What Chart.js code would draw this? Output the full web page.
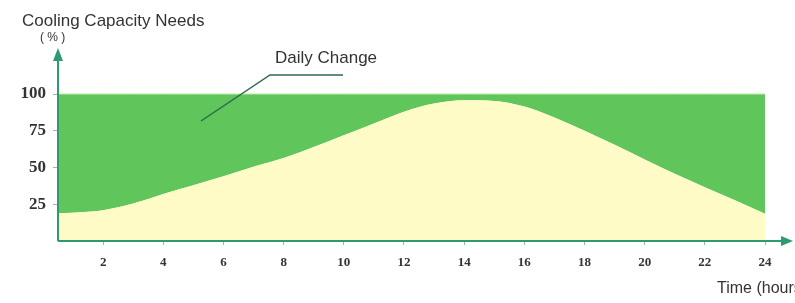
<!DOCTYPE html>
<html>
<head>
<meta charset="utf-8">
<script src="https://cdn.jsdelivr.net/npm/chart.js@4.4.0/dist/chart.umd.min.js"></script>
<style>
  html, body { margin: 0; padding: 0; background: #fff; }
  #wrap { width: 795px; height: 303px; position: relative; }
</style>
</head>
<body>
<div id="wrap"><canvas id="chart"></canvas></div>
<script>
// hours along the day and the cooling need (%)
var hours = [0.5, 1, 2, 3, 4, 5, 6, 7, 8, 9, 10, 11, 12, 13, 14, 15, 16, 17, 18, 19, 20, 21, 22, 23, 24];
var needs = [19, 19.3, 21, 25.5, 32, 38, 44, 50.5, 56.5, 64, 72, 80, 88, 93.5, 95.8, 95.3, 91.5, 84, 75, 65.5, 55.5, 45.8, 36.6, 27.8, 18.5];
var fullLoad = [100, 100, 100, 100, 100, 100, 100, 100, 100, 100, 100, 100, 100, 100, 100, 100, 100, 100, 100, 100, 100, 100, 100, 100, 100];
var xTicks = [2, 4, 6, 8, 10, 12, 14, 16, 18, 20, 22, 24];
var yTicks = [25, 50, 75, 100];

var teal = '#2f9a6e';

function pts(ys) {
    var out = [];
    for (var i = 0; i < hours.length; i++) out.push({x: hours[i], y: ys[i]});
    return out;
}

// axis lines with arrows, titles and the leader line
var decor = {
    id: 'decor',
    afterDraw: function(c) {
        var ctx = c.ctx, a = c.chartArea;
        ctx.save();
        ctx.strokeStyle = teal;
        ctx.lineWidth = 2;
        ctx.beginPath();
        ctx.moveTo(a.left, a.bottom);
        ctx.lineTo(a.left, a.top + 6);
        ctx.moveTo(a.left, a.bottom);
        ctx.lineTo(a.right - 6, a.bottom);
        ctx.stroke();

        ctx.fillStyle = teal;
        ctx.beginPath();
        ctx.moveTo(a.left, a.top - 4);
        ctx.lineTo(a.left - 5, a.top + 9);
        ctx.lineTo(a.left + 5, a.top + 9);
        ctx.closePath();
        ctx.fill();
        ctx.beginPath();
        ctx.moveTo(a.right + 3, a.bottom);
        ctx.lineTo(a.right - 9, a.bottom - 5);
        ctx.lineTo(a.right - 9, a.bottom + 5);
        ctx.closePath();
        ctx.fill();

        ctx.fillStyle = '#333';
        ctx.textBaseline = 'middle';
        ctx.font = '17px "Liberation Sans", Arial, sans-serif';
        ctx.fillText('Cooling Capacity Needs', 22, 21);
        ctx.font = '12px "Liberation Sans", Arial, sans-serif';
        ctx.fillText('( % )', 40, 38);
        ctx.font = '17px "Liberation Sans", Arial, sans-serif';
        ctx.fillText('Daily Change', 275, 58);
        ctx.font = '16px "Liberation Sans", Arial, sans-serif';
        ctx.fillText('Time (hours)', 717, 289);

        ctx.strokeStyle = '#2c6a4c';
        ctx.lineWidth = 1.5;
        ctx.beginPath();
        ctx.moveTo(343, 75);
        ctx.lineTo(270, 75);
        ctx.lineTo(201, 121);
        ctx.stroke();
        ctx.restore();
    }
};

chart = new Chart(document.getElementById('chart'), {
    type: 'line',
    data: {
        datasets: [
            {
                label: 'needs', data: pts(needs),
                fill: 'origin', backgroundColor: '#fefbc7',
                borderWidth: 0, pointRadius: 0, cubicInterpolationMode: 'monotone'
            },
            {
                label: 'full', data: pts(fullLoad),
                fill: '-1', backgroundColor: '#60c65c',
                borderColor: '#b9e6a0', borderWidth: 1, pointRadius: 0
            }
        ]
    },
    options: {
        responsive: true,
        maintainAspectRatio: false,
        animation: false,
        layout: { padding: { top: 52, right: 5, left: 0, bottom: 0 } },
        plugins: { legend: { display: false }, tooltip: { enabled: false } },
        scales: {
            x: {
                type: 'linear', min: 0.5, max: 24.83,
                afterBuildTicks: function(s) { s.ticks = xTicks.map(function(v) { return {value: v}; }); },
                afterFit: function(s) { s.height = 62; },
                grid: { drawOnChartArea: false, drawTicks: true, tickLength: 4, color: '#8fbfa5' },
                border: { display: false },
                ticks: {
                    padding: 10, color: '#333',
                    font: { family: '"Liberation Serif", "Times New Roman", serif', size: 13, weight: 'bold' }
                }
            },
            y: {
                min: 0, max: 128.6,
                afterBuildTicks: function(s) { s.ticks = yTicks.map(function(v) { return {value: v}; }); },
                afterFit: function(s) { s.width = 58; },
                grid: { drawOnChartArea: false, drawTicks: true, tickLength: 5, color: '#8fbfa5' },
                border: { display: false },
                ticks: {
                    padding: 7, color: '#333',
                    font: { family: '"Liberation Serif", "Times New Roman", serif', size: 17, weight: 'bold' }
                }
            }
        }
    },
    plugins: [decor]
});
</script>
</body>
</html>
